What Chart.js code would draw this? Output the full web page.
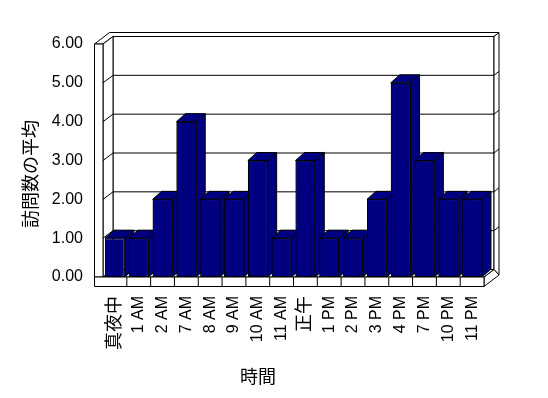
<!DOCTYPE html>
<html>
<head>
<meta charset="utf-8">
<script src="https://cdn.jsdelivr.net/npm/chart.js@4/dist/chart.umd.min.js"></script>
<style>
  html, body { margin: 0; padding: 0; background: #fff; }
</style>
</head>
<body>
<canvas id="visitsChart" width="548" height="398"></canvas>
<script>
/* Data */

const hours = ["真夜中", "1 AM", "2 AM", "7 AM", "8 AM", "9 AM", "10 AM", "11 AM", "正午", "1 PM", "2 PM", "3 PM", "4 PM", "7 PM", "10 PM", "11 PM"];
const avgVisits = [1, 1, 2, 4, 2, 2, 3, 1, 3, 1, 1, 2, 5, 3, 2, 2];
const valueTicks = [0, 1, 2, 3, 4, 5, 6];
const yTitle = "訪問数の平均";
const xTitle = "時間";

/* 3D look (pixels) */

const wallDepth = [10, -7.5];   // back wall front face
const outerDepth = [15, -11.5]; // back of the wall slab
const barDepth = [9, -8];
const wallWidth = 8.5;
const floorHeight = 9.5;
const barColor = "#000080";

const poly = (ctx, pts, fill) => {
    ctx.beginPath();
    ctx.moveTo(pts[0][0], pts[0][1]);
    pts.slice(1).forEach(p => ctx.lineTo(p[0], p[1]));
    ctx.closePath();
    if (fill) {
        ctx.fillStyle = fill;
        ctx.fill();
    }
    ctx.stroke();
};

const line = (ctx, pts) => {
    ctx.beginPath();
    ctx.moveTo(pts[0][0], pts[0][1]);
    pts.slice(1).forEach(p => ctx.lineTo(p[0], p[1]));
    ctx.stroke();
};

const box3d = {
    id: "box3d",
    beforeDatasetsDraw(chart) {
        const {ctx, chartArea: a, scales: {x, y}} = chart;
        const [wx, wy] = wallDepth;
        const [ox, oy] = outerDepth;
        const L = a.left, R = a.right, T = a.top, B = a.bottom;
        const WL = L - wallWidth, FB = B + floorHeight;

        ctx.save();
        ctx.lineWidth = 1;
        ctx.strokeStyle = "#000";

        // back wall, top and right side
        poly(ctx, [[L + wx, T + wy], [R + wx, T + wy], [R + wx, B + wy], [L + wx, B + wy]], "#fff");
        poly(ctx, [[WL, T], [L, T], [L + wx, T + wy], [R + wx, T + wy], [R + ox, T + oy], [WL + ox, T + oy]], "#fff");
        poly(ctx, [[R + wx, T + wy], [R + ox, T + oy], [R + ox, FB + oy], [R + wx, B + wy]], "#fff");
        poly(ctx, [[R, B], [R + wx, B + wy], [R + ox, FB + oy], [R, FB]], "#fff");

        // left wall inner face and floor top
        poly(ctx, [[L, T], [L + wx, T + wy], [L + wx, B + wy], [L, B]], "#fff");
        poly(ctx, [[L, B], [R, B], [R + wx, B + wy], [L + wx, B + wy]], "#fff");

        // gridlines
        valueTicks.slice(1, -1).forEach(v => {
            const py = y.getPixelForValue(v);
            line(ctx, [[WL, py], [L, py]]);
            line(ctx, [[L, py], [L + wx, py + wy], [R + wx, py + wy], [R + ox, py + oy]]);
        });

        // front faces of wall and floor
        poly(ctx, [[WL, T], [L, T], [L, B], [WL, B]], "#fff");
        poly(ctx, [[WL, B], [R, B], [R, FB], [WL, FB]], "#fff");
        const half = (x.getPixelForValue(1) - x.getPixelForValue(0)) / 2;
        hours.forEach((h, i) => {
            if (i === 0) return;
            const px = x.getPixelForValue(i) - half;
            line(ctx, [[px, B], [px, FB]]);
        });
        ctx.restore();
    },
    afterDatasetsDraw(chart) {
        const {ctx} = chart;
        const bars = chart.getDatasetMeta(0).data;
        const [bx, by] = barDepth;
        ctx.save();
        ctx.lineWidth = 1;
        ctx.strokeStyle = "#000";
        bars.forEach((bar, i) => {
            const {x, y, base, width} = bar.getProps(["x", "y", "base", "width"], true);
            const xa = x - width / 2, xb = x + width / 2;
            poly(ctx, [[xa, y], [xb, y], [xb + bx, y + by], [xa + bx, y + by]], barColor);
            poly(ctx, [[xb, y], [xb + bx, y + by], [xb + bx, base + by], [xb, base]], barColor);
            if (bars[i + 1]) bars[i + 1].draw(ctx);
        });
        ctx.restore();
    },
    afterDraw(chart) {
        const {ctx} = chart;
        ctx.save();
        ctx.fillStyle = "#000";
        ctx.font = '18px "Noto Sans CJK JP"';
        ctx.textAlign = "center";
        ctx.textBaseline = "middle";
        ctx.fillText(xTitle, 258, 376);
        ctx.translate(30, 174);
        ctx.rotate(-Math.PI / 2);
        ctx.fillText(yTitle, 0, 0);
        ctx.restore();
    }
};

/* Chart */

const fontFamily = '"Liberation Sans", "Noto Sans CJK JP", sans-serif';
const tickFont = {family: fontFamily, size: 16};
// kanji labels look bigger in the original
const xTickFont = c => /[^\x00-\x7f]/.test(hours[c.index] || "") ? {family: fontFamily, size: 18} : tickFont;

new Chart(document.getElementById("visitsChart"), {
    type: "bar",
    data: {
        labels: hours,
        datasets: [{
            label: yTitle,
            data: avgVisits,
            backgroundColor: barColor,
            borderColor: "#000",
            borderWidth: 1,
            borderSkipped: false,
            categoryPercentage: 1,
            barPercentage: 0.83
        }]
    },
    options: {
        responsive: false,
        animation: false,
        devicePixelRatio: 1,
        layout: {padding: {top: 44, right: 64, left: 0, bottom: 0}},
        plugins: {legend: {display: false}, tooltip: {enabled: false}},
        scales: {
            x: {
                grid: {display: false, drawTicks: false},
                border: {display: false},
                ticks: {color: "#000", font: xTickFont, minRotation: 90, maxRotation: 90, padding: 19, autoSkip: false},
                afterFit: scale => { scale.height = 121; }
            },
            y: {
                min: valueTicks[0],
                max: valueTicks[valueTicks.length - 1],
                grid: {display: false, drawTicks: false},
                border: {display: false},
                ticks: {color: "#000", font: tickFont, stepSize: 1, padding: 20, callback: v => v.toFixed(2)},
                afterFit: scale => { scale.width = 103; }
            }
        }
    },
    plugins: [box3d]
});
</script>
</body>
</html>
